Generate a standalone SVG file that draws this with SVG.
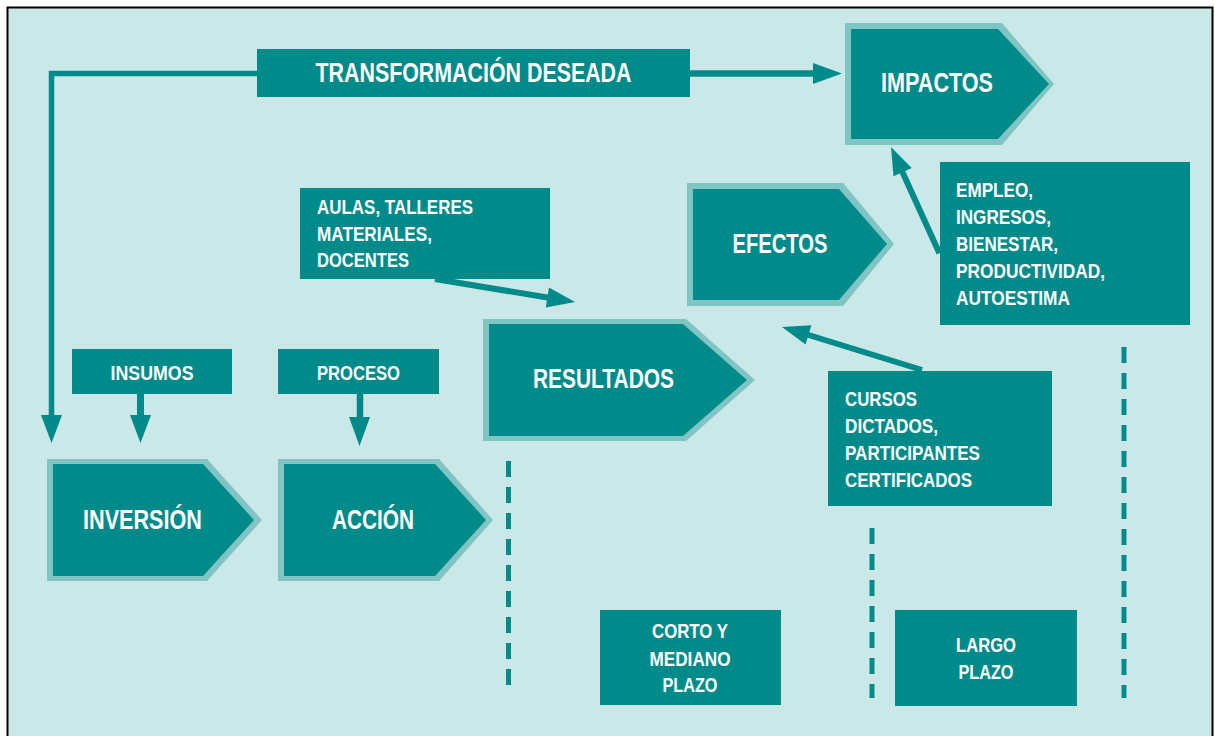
<svg xmlns="http://www.w3.org/2000/svg" width="1215" height="736" viewBox="0 0 1215 736">
<style>
.bg{fill:#CBE8E8;stroke:#000;stroke-width:2}
.rim{fill:#80C4C3}
.box{fill:#008B8A}
.t{font-family:"Liberation Sans",Arial,sans-serif;font-weight:bold;fill:#fff}
.big{font-size:27px}
.sm{font-size:21px}
.ln{stroke:#008B8A;fill:none}
.hd{fill:#008B8A}
.dash{stroke:#008B8A;stroke-width:5;stroke-dasharray:16 10;fill:none}
</style>
<rect x="0" y="0" width="1215" height="736" fill="#fff"/>
<rect class="bg" x="7.5" y="7.5" width="1205" height="740"/>

<g id="transformacion">
<rect class="box" x="257" y="49" width="433" height="48"/>
<text class="t big" x="473.5" y="82" text-anchor="middle" textLength="316" lengthAdjust="spacingAndGlyphs">TRANSFORMACIÓN DESEADA</text>
</g>

<g id="impactos">
<polygon class="rim" points="845,23 1002,23 1054,84 1002,145 845,145"/>
<polygon class="box" points="851,29 998,29 1049,84 998,139 851,139"/>
<text class="t big" x="937" y="92" text-anchor="middle" textLength="112" lengthAdjust="spacingAndGlyphs">IMPACTOS</text>
</g>

<g id="efectos">
<polygon class="rim" points="687,183 843,183 894,244 843,306 687,306"/>
<polygon class="box" points="693,189 839,189 887,244 839,300 693,300"/>
<text class="t big" x="780" y="253" text-anchor="middle" textLength="95" lengthAdjust="spacingAndGlyphs">EFECTOS</text>
</g>

<g id="resultados">
<polygon class="rim" points="483,319 686,319 755,380 686,441 483,441"/>
<polygon class="box" points="489,324 683,324 747,380 683,436 489,436"/>
<text class="t big" x="603.5" y="388" text-anchor="middle" textLength="141" lengthAdjust="spacingAndGlyphs">RESULTADOS</text>
</g>

<g id="inversion">
<polygon class="rim" points="47,459 207,459 262,520 207,581 47,581"/>
<polygon class="box" points="53,464 203,464 254,520 203,576 53,576"/>
<text class="t big" x="142.5" y="529" text-anchor="middle" textLength="119" lengthAdjust="spacingAndGlyphs">INVERSIÓN</text>
</g>

<g id="accion">
<polygon class="rim" points="278,459 439,459 493,520 439,581 278,581"/>
<polygon class="box" points="284,464 435,464 486,520 435,576 284,576"/>
<text class="t big" x="373" y="529" text-anchor="middle" textLength="82" lengthAdjust="spacingAndGlyphs">ACCIÓN</text>
</g>

<g id="insumos">
<rect class="box" x="72" y="349" width="160" height="45"/>
<text class="t sm" x="152" y="380" text-anchor="middle" textLength="83" lengthAdjust="spacingAndGlyphs">INSUMOS</text>
</g>

<g id="proceso">
<rect class="box" x="278" y="349" width="161" height="45"/>
<text class="t sm" x="358.5" y="380" text-anchor="middle" textLength="83" lengthAdjust="spacingAndGlyphs">PROCESO</text>
</g>

<g id="aulas">
<rect class="box" x="300" y="188" width="250" height="91"/>
<text class="t sm" x="317" y="214" textLength="156" lengthAdjust="spacingAndGlyphs">AULAS, TALLERES</text>
<text class="t sm" x="317" y="241" textLength="115" lengthAdjust="spacingAndGlyphs">MATERIALES,</text>
<text class="t sm" x="317" y="267" textLength="92" lengthAdjust="spacingAndGlyphs">DOCENTES</text>
</g>

<g id="empleo">
<rect class="box" x="940" y="162" width="250" height="163"/>
<text class="t sm" x="956" y="197" textLength="77" lengthAdjust="spacingAndGlyphs">EMPLEO,</text>
<text class="t sm" x="956" y="224" textLength="95" lengthAdjust="spacingAndGlyphs">INGRESOS,</text>
<text class="t sm" x="956" y="251" textLength="102" lengthAdjust="spacingAndGlyphs">BIENESTAR,</text>
<text class="t sm" x="956" y="278" textLength="149" lengthAdjust="spacingAndGlyphs">PRODUCTIVIDAD,</text>
<text class="t sm" x="956" y="305" textLength="114" lengthAdjust="spacingAndGlyphs">AUTOESTIMA</text>
</g>

<g id="cursos">
<rect class="box" x="828" y="371" width="224" height="135"/>
<text class="t sm" x="845" y="406" textLength="72" lengthAdjust="spacingAndGlyphs">CURSOS</text>
<text class="t sm" x="845" y="433" textLength="93" lengthAdjust="spacingAndGlyphs">DICTADOS,</text>
<text class="t sm" x="845" y="460" textLength="135" lengthAdjust="spacingAndGlyphs">PARTICIPANTES</text>
<text class="t sm" x="845" y="487" textLength="127" lengthAdjust="spacingAndGlyphs">CERTIFICADOS</text>
</g>

<g id="corto">
<rect class="box" x="600" y="610" width="181" height="95"/>
<text class="t sm" x="690" y="638" text-anchor="middle" textLength="76" lengthAdjust="spacingAndGlyphs">CORTO Y</text>
<text class="t sm" x="690" y="666" text-anchor="middle" textLength="81" lengthAdjust="spacingAndGlyphs">MEDIANO</text>
<text class="t sm" x="690" y="692" text-anchor="middle" textLength="55" lengthAdjust="spacingAndGlyphs">PLAZO</text>
</g>

<g id="largo">
<rect class="box" x="895" y="610" width="182" height="96"/>
<text class="t sm" x="986" y="652" text-anchor="middle" textLength="60" lengthAdjust="spacingAndGlyphs">LARGO</text>
<text class="t sm" x="986" y="679" text-anchor="middle" textLength="55" lengthAdjust="spacingAndGlyphs">PLAZO</text>
</g>

<g id="connectors">
<polyline class="ln" stroke-width="5.5" points="257,73.5 51.5,73.5 51.5,416"/>
<polygon class="hd" points="41,415 62,415 51.5,443"/>
<line class="ln" stroke-width="6.5" x1="690" y1="73.5" x2="814" y2="73.5"/>
<polygon class="hd" points="813,63 813,84 842,73.5"/>
<line class="ln" stroke-width="7" x1="140.5" y1="394" x2="140.5" y2="416"/>
<polygon class="hd" points="130,415 151,415 140.5,443"/>
<line class="ln" stroke-width="6.5" x1="360" y1="394" x2="360" y2="418"/>
<polygon class="hd" points="349,417 370,417 359.5,446"/>
<line class="ln" stroke-width="6" x1="435" y1="279" x2="549" y2="297.8"/>
<polygon class="hd" points="575,302 545.8,307.4 549,287.6"/>
<line class="ln" stroke-width="6" x1="922" y1="370" x2="807" y2="334.5"/>
<polygon class="hd" points="782,327 811.4,325.3 805.6,344.5"/>
<line class="ln" stroke-width="6" x1="939.4" y1="253.3" x2="901.5" y2="170"/>
<polygon class="hd" points="891,147 911.7,168.1 893.5,176.3"/>
<line class="dash" x1="508.5" y1="461" x2="508.5" y2="690"/>
<line class="dash" x1="872" y1="528" x2="872" y2="698"/>
<line class="dash" x1="1124" y1="347" x2="1124" y2="698"/>
</g>
</svg>
